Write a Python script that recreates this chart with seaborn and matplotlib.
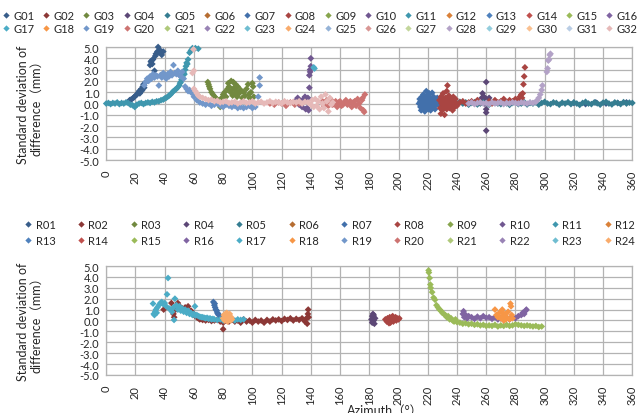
import matplotlib
matplotlib.use("Agg")
import matplotlib.pyplot as plt
from matplotlib.lines import Line2D
import pandas as pd
import seaborn as sns

# Excel 2007 style series colours (dark, medium, accent, light 1-3)
palette = ["#385D8A", "#8C3836", "#71893F", "#5C4776", "#357D91", "#B66D31",
           "#4270AB", "#A94542", "#87A54D", "#705790", "#3F97AE", "#DA8139",
           "#4F81BD", "#C0504D", "#9BBB59", "#8064A2", "#4BACC6", "#F79646",
           "#7297CA", "#CD7371", "#AFC97A", "#9983B5", "#6FBDD1", "#F9AB6B",
           "#95B3D7", "#D99694", "#C3D69B", "#B3A2C7", "#93CDDD", "#FAC090",
           "#B9CDE5", "#E6B9B8"]

g_names = ["G%02d" % i for i in range(1, 33)]
r_names = ["R%02d" % i for i in range(1, 25)]

x_ticks = list(range(0, 361, 20))
y_ticks = [-5.0, -4.0, -3.0, -2.0, -1.0, 0.0, 1.0, 2.0, 3.0, 4.0, 5.0]

# ---- upper chart (G series), (azimuth, std dev) ----
g01 = [(16, 0.3), (17, 0.35), (18, 0.45), (19, 0.55), (20, 0.7), (21, 0.8), (22, 0.95),
       (22.5, 1.1), (23, 0.9), (24, 1.3), (24.5, 1.15), (25, 1.5), (25.5, 1.7), (26, 1.4),
       (27, 1.9), (30, 3.4), (30.5, 3.7), (31, 3.8), (31.5, 3.5), (32, 3.9), (33, 2.9),
       (33.5, 4.2), (34, 4.4), (35, 4.6), (35.5, 5.0), (36, 4.5), (37, 4.7), (38, 4.3),
       (39, 4.6), (320, 0.05), (328, -0.05), (335, 0.1), (342, 0.0), (350, 0.05), (356, 0.1)]
g03 = [(69.5, 1.9), (70, 1.7), (70.5, 1.5), (71, 1.3), (72, 1.0), (73, 0.8), (74, 0.6),
       (75, 0.5), (76, 0.3), (78, -0.3), (79, 0.5), (80, 0.8), (81, 1.0), (82, 0.6),
       (83, 1.3), (83.5, 1.8), (84, 1.5), (85, 1.0), (85.5, 2.0), (86, 1.2), (86.5, 0.7),
       (87, 1.9), (87.5, 1.4), (88, 0.9), (88.5, 1.7), (89, 1.1), (89.5, 0.6), (90, 1.5),
       (91, 0.9), (92, 1.2), (93, 0.5), (94, 1.0), (95, 0.7), (96, 1.3), (97, 1.7),
       (97.5, 0.8), (98, 0.5), (99, 1.0), (100, 1.8), (100.5, 1.5), (101, 0.6)]
g04 = [(257, 0.5), (257.5, 0.9), (258, 0.2), (258.5, 0.6), (259, 0.0), (259.5, 0.4),
       (260, 1.9), (260, -0.5), (260, -0.8), (260, -2.4), (261, 0.3), (261.5, 0.0), (262, 0.5)]
g05 = [(238, 0.1), (240, -0.05), (242, 0.15), (244, 0.0), (246, 0.1), (248, -0.1),
       (250, 0.05), (252, 0.12), (254, -0.08), (256, 0.0), (258, 0.1), (260, 0.05),
       (262, -0.1), (264, 0.08), (266, 0.15), (268, 0.0), (270, -0.05), (272, 0.1),
       (274, 0.02), (276, -0.12), (278, 0.05), (280, 0.1), (282, -0.05), (284, 0.0),
       (286, 0.12), (288, -0.08), (290, 0.05), (292, 0.0), (294, 0.1), (296, -0.1),
       (298, 0.05), (300, 0.15), (302, 0.0), (304, -0.05), (306, 0.1), (308, 0.05),
       (310, -0.1), (312, 0.08), (314, 0.0), (316, 0.12), (318, -0.05), (320, 0.1),
       (322, 0.0), (324, -0.12), (326, 0.05), (328, 0.15), (330, 0.0), (332, -0.05),
       (334, 0.1), (336, 0.02), (338, -0.1), (340, 0.08), (342, 0.15), (344, 0.0),
       (346, -0.08), (348, 0.1), (350, 0.05), (352, -0.05), (354, 0.12), (356, 0.0),
       (358, 0.08), (360, 0.05)]
g07 = [(214, 0.0), (214.5, 0.4), (215, -0.3), (215, 0.2), (215.5, -0.6), (216, 0.6),
       (216, 0.0), (216.5, -0.4), (217, 0.3), (217, 0.8), (217.5, -0.2), (218, 0.5),
       (218, -0.7), (218.5, 0.1), (219, 1.1), (219, -0.3), (219.5, 0.4), (220, 0.0),
       (220, 0.7), (220.5, -0.5), (221, 0.2), (221, 0.9), (221.5, -0.1), (222, 0.5),
       (222, -0.6), (222.5, 0.1), (223, 0.95), (223, -0.3), (223.5, 0.3), (224, 0.6),
       (224, -0.2), (224.5, 0.0), (225, 0.4), (225, -0.5), (225.5, 0.2), (226, -0.1),
       (226.5, 0.5), (227, 0.0), (227.5, 0.3), (228, -0.2)]
g08 = [(228, 0.3), (228.5, -0.4), (229, 0.6), (229, -0.9), (229.5, 0.0), (230, 0.4),
       (230, -0.6), (230.5, 0.9), (231, -0.2), (231, 0.2), (231.5, -1.0), (232, 0.5),
       (232, -0.3), (232.5, 0.0), (233, 1.1), (233.5, 1.6), (233, -0.5), (234, 0.3),
       (234, -0.1), (234.5, 0.7), (235, -0.4), (235, 0.1), (235.5, 0.5), (236, -0.2),
       (236.5, 0.3), (237, -0.6), (237, 0.0), (237.5, 0.6), (238, 0.2), (238.5, -0.3),
       (239, 0.4), (239.5, 0.0), (240, -0.2), (242, 0.1), (244, 0.2), (246, 0.0),
       (248, 0.1), (250, 0.2), (252, 0.0), (254, 0.3), (256, 0.1), (262, 0.2), (264, 0.0),
       (266, 0.3), (268, 0.1), (270, 0.2), (272, 0.4), (274, 0.1), (276, 0.3), (278, 0.2),
       (280, 0.4), (282, 0.3), (283, 0.6), (284, 0.8), (284.5, 0.5), (285, 0.9),
       (285.5, 1.7), (286, 2.4), (286.5, 3.2)]
g10 = [(130, 0.3), (131, 0.5), (132, -0.1), (133, 0.2), (134, -0.3), (135, 0.4),
       (136, 0.6), (136.5, -0.5), (137, 0.3), (137.5, -0.4), (138, 0.5), (138.5, -0.6),
       (139, 1.4), (139, 2.5), (139.5, 3.0), (140, 3.3), (140, 4.0), (139.5, 2.8)]
g11 = [(0, 0.0), (1.5, 0.05), (3, -0.05), (4.5, 0.05), (6, 0.0), (7.5, 0.1), (9, -0.05),
       (10.5, 0.05), (12, 0.0), (13.5, 0.1), (15, 0.05), (16.5, -0.1), (18, -0.15),
       (19.5, -0.3), (20, -0.2), (21, -0.1), (22.5, 0.0), (24, 0.05), (25.5, -0.05),
       (27, 0.05), (28.5, 0.1), (30, 0.05), (31.5, 0.15), (33, 0.1), (34.5, 0.2),
       (36, 0.2), (37.5, 0.3), (39, 0.35), (40, 0.45), (41, 0.5), (42, 0.6), (43, 0.7),
       (44, 0.8), (45, 0.95), (46, 1.1), (47, 1.2), (48, 1.3), (49, 1.45), (50, 1.6),
       (50.5, 1.8), (51, 1.9), (51.5, 2.1), (52, 2.3), (52.5, 2.5), (53, 2.7), (53.5, 2.6),
       (54, 3.0), (54.5, 3.3), (55, 3.6), (55.5, 3.5), (56, 3.9), (57, 4.5), (58, 4.7),
       (59, 4.9), (61, 4.9), (63, 4.85)]
g17 = [(142, 3.2), (142.5, 3.1)]
g19 = [(26, 1.6), (27, 1.9), (28, 2.2), (29, 2.0), (30, 2.4), (31, 2.2), (32, 2.6),
       (33, 2.3), (34, 2.5), (35, 2.4), (36, 1.6), (37, 2.5), (38, 2.3), (39, 2.7),
       (40, 2.5), (41, 2.2), (42, 2.6), (43, 2.4), (44, 2.8), (45, 2.5), (46, 3.4),
       (47, 2.7), (48, 2.6), (49, 2.9), (50, 2.5), (51, 2.4), (52, 2.8), (53, 2.2),
       (54, 1.5), (55, 1.3), (56, 1.1), (57, 1.2), (58, 1.0), (59, 0.9), (60, 0.6),
       (62, 0.3), (64, 0.1), (66, 0.0), (68, -0.1), (70, 0.0), (72, -0.2), (74, -0.1),
       (76, 0.0), (78, -0.2), (80, -0.3), (82, -0.1), (84, -0.2), (86, -0.3), (88, -0.2),
       (90, -0.4), (92, -0.3), (94, -0.4), (96, -0.3), (98, -0.2), (100, -0.4),
       (102, -0.3), (104, 0.6), (105, 2.3), (105, 1.6)]
g20 = [(112, 0.0), (115, -0.1), (118, 0.1), (120, 0.0), (123, -0.2), (126, 0.1),
       (129, -0.1), (132, 0.0), (148, 0.2), (149, -0.2), (150, 0.1), (151, 0.3),
       (152, -0.2), (153, 0.0), (154, 0.3), (155, -0.1), (156, 0.0), (157, 0.2),
       (158, -0.3), (159, 0.1), (160, 0.2), (161, -0.2), (162, -0.1), (163, 0.1),
       (164, 0.3), (165, -0.1), (166, 0.0), (167, 0.2), (168, -0.3), (169, 0.1),
       (170, 0.2), (171, -0.2), (172, 0.4), (173, 0.0), (174, -0.4), (175, 0.3),
       (175.5, 0.5), (176, -0.6), (176.5, -0.75), (177, 0.8)]
g28 = [(248, 0.0), (250, 0.1), (252, -0.05), (254, 0.05), (256, 0.1), (258, 0.0),
       (260, 0.05), (262, -0.05), (264, 0.1), (266, 0.0), (268, 0.05), (270, 0.1),
       (272, -0.05), (274, 0.05), (276, 0.0), (278, 0.1), (280, 0.05), (282, 0.0),
       (284, 0.1), (286, 0.05), (288, 0.0), (290, 0.1), (292, 0.05), (294, 0.15),
       (295, 0.3), (296, 0.5), (297, 0.8), (298, 1.2), (298.5, 1.6), (301.5, 2.8),
       (302, 3.1), (302.5, 3.8), (303, 3.9), (303.5, 4.3), (304, 4.4)]
g32 = [(59.7, 4.8), (60, 2.9), (59, 2.7), (60, 1.3), (61, 1.1), (62, 0.9), (63, 0.7),
       (64, 0.6), (66, 0.5), (68, 0.4), (70, 0.3), (72, 0.35), (74, 0.2), (76, 0.25),
       (78, 0.1), (80, 0.15), (82, 0.2), (84, 0.05), (86, 0.1), (88, 0.15), (90, 0.0),
       (92, 0.1), (94, 0.2), (96, 0.05), (98, 0.1), (100, 0.2), (102, 0.0), (104, 0.1),
       (106, 0.15), (108, 0.0), (110, 0.1), (112, 0.2), (114, 0.05), (116, 0.15),
       (118, 0.1), (120, 0.0), (122, 0.2), (124, 0.1), (126, 0.05), (128, 0.15),
       (130, 0.1), (132, 0.2), (134, 0.0), (136, 0.15), (138, 0.1), (140, -0.1),
       (141, 0.3), (142, -0.3), (143, 0.4), (144, -0.2), (145, 0.2), (146, -0.5),
       (147, 0.6), (148, 0.0), (149, -0.4), (150, 0.8), (151, 0.2), (152, -0.7),
       (153, 0.5), (154, -0.1), (155, 0.1)]

# ---- lower chart (R series) ----
r02 = [(39.3, 1.0), (44.6, 1.6), (46, 0.6), (46.5, 0.3), (47.5, 1.0), (49, 1.6),
       (50, 1.3), (51, 1.2), (52, 1.1), (53, 1.0), (54, 1.2), (55, 0.9), (56, 1.3),
       (57, 0.8), (58, 0.9), (59, 0.7), (60, 0.6), (61, 0.4), (62, 0.3), (63, 0.2),
       (64, 0.1), (65, 0.15), (66, 0.05), (68, 0.0), (70, 0.05), (72, -0.05), (74, 0.0),
       (76, 0.05), (78, -0.1), (80, -0.8), (80, -0.2), (82, 0.0), (84, -0.1), (86, 0.05),
       (88, -0.1), (90, 0.0), (92, -0.2), (94, 0.1), (96, -0.1), (98, 0.0), (100, -0.2),
       (102, 0.05), (104, -0.1), (106, 0.0), (108, -0.2), (110, 0.05), (112, -0.1),
       (114, 0.1), (116, 0.0), (118, 0.1), (120, -0.05), (122, 0.15), (124, 0.05),
       (126, 0.2), (128, 0.0), (130, 0.15), (132, 0.05), (134, 0.2), (136, -0.1),
       (137, 0.2), (137.5, -0.3), (138, 0.6), (138.2, 1.0), (138.5, 0.3)]
r04 = [(181.5, 0.1), (182, 0.4), (182, -0.2), (182.5, 0.6), (183, 0.0), (183, 0.3),
       (183.5, -0.3), (184, 0.2), (182.5, -0.1), (183, 0.5)]
r07 = [(73.3, 1.7), (74, 1.4), (74.2, 1.55), (74.5, 1.2), (75, 1.0), (75.6, 0.9),
       (76, 0.7), (76.5, 0.6), (77, 0.5), (78, 0.4)]
r08 = [(191, 0.1), (192, -0.1), (192.5, 0.2), (193, 0.0), (193.5, -0.25), (194, 0.3),
       (194.5, -0.2), (195, 0.1), (195.5, 0.3), (196, 0.4), (196.5, -0.1), (197, 0.2),
       (198, 0.3), (198.5, 0.0), (199, 0.2), (200, 0.1), (200.5, 0.2)]
r15 = [(220.6, 4.6), (220.8, 4.4), (221.3, 3.9), (221.8, 3.3), (222, 3.0), (223, 2.6),
       (224, 2.1), (225, 1.9), (226, 1.4), (227, 1.2), (228, 1.0), (229, 0.9), (230, 0.7),
       (231, 0.6), (232, 0.5), (233, 0.3), (234, 0.4), (235, 0.1), (236, 0.2), (237, 0.0),
       (238, -0.1), (239, 0.1), (240, -0.15), (242, -0.2), (244, -0.3), (246, -0.25),
       (248, -0.35), (250, -0.3), (252, -0.4), (254, -0.35), (256, -0.45), (258, -0.4),
       (260, -0.5), (262, -0.45), (264, -0.5), (266, -0.4), (268, -0.55), (270, -0.45),
       (272, -0.5), (274, -0.4), (276, -0.5), (278, -0.45), (280, -0.35), (282, -0.4),
       (284, -0.45), (286, -0.5), (288, -0.45), (290, -0.5), (292, -0.55), (294, -0.5),
       (296, -0.6), (298, -0.55)]
r16 = [(244, 0.6), (244.5, 0.85), (245, 0.3), (246, 0.5), (247, 0.2), (248, 0.4),
       (250, 0.3), (252, 0.15), (254, 0.35), (256, 0.2), (258, 0.4), (260, 0.25),
       (262, 0.3), (264, 0.15), (266, 0.3), (268, 0.1), (270, 0.2), (272, 0.05),
       (274, 0.25), (276, 0.1), (278, 0.3), (280, 0.2), (282, 0.4), (284, 0.5),
       (285, 0.7), (286, 0.6), (287, 0.9), (287.5, 1.0)]
r17 = [(32, 1.55), (32.5, 0.6), (33, 0.5), (33.5, 0.8), (34, 1.0), (34.5, 0.7), (35, 1.2),
       (36, 1.4), (37, 1.6), (38, 1.7), (39, 1.5), (40, 1.6), (41, 1.3), (41.6, 2.4),
       (42.3, 3.9), (43, 1.1), (44, 1.0), (45, 0.8), (46, 1.2), (46.4, 0.05), (47, 2.0),
       (48, 1.4), (49, 1.0), (50, 1.3), (51, 0.9), (52, 1.1), (53, 0.8), (54, 1.0),
       (55, 0.7), (56, 0.9), (57, 0.6), (58, 0.7), (59, 0.5), (60, 0.6), (60.7, 1.3),
       (61, 0.45), (62, 0.5), (63, 0.4), (64, 0.35), (65, 0.3), (66, 0.3), (67, 0.25),
       (68, 0.2), (69, 0.25), (70, 0.15), (71, 0.2), (72, 0.1), (73, 0.15), (74, 0.1),
       (76, 0.05), (78, 0.1), (80, 0.0), (82, 0.1), (84, 0.05), (86, 0.1), (88, 0.0),
       (90, 0.1), (92, 0.05), (94, 0.1)]
r18 = [(266, 1.0), (267, 0.5), (268, 0.3), (269, 0.7), (270, 0.2), (270.5, 0.8),
       (271, 1.0), (271.5, 0.4), (272, 0.0), (273, 0.6), (273.5, 0.1), (274, 0.3),
       (275, 0.8), (276, 0.1), (276.6, 1.55), (277, 1.3), (277.5, 0.5), (278, 0.2)]
r24 = [(80, 0.2), (80.5, 0.5), (81, 0.0), (81.5, 0.6), (82, 0.3), (82.5, 0.7), (83, 0.1),
       (83, -0.1), (83.5, 0.5), (84, 0.2), (84.5, 0.6), (85, 0.0), (85.5, 0.3), (86, 0.1)]

top_series = {"G01": g01, "G03": g03, "G04": g04, "G05": g05, "G07": g07, "G08": g08,
              "G10": g10, "G11": g11, "G17": g17, "G19": g19, "G20": g20, "G28": g28,
              "G32": g32}
bottom_series = {"R02": r02, "R04": r04, "R07": r07, "R08": r08, "R15": r15,
                 "R16": r16, "R17": r17, "R18": r18, "R24": r24}


def to_frame(names, series):
    rows = []
    for name in names:
        for az, sd in series.get(name, []):
            rows.append((name, az, sd))
    return pd.DataFrame(rows, columns=["series", "azimuth", "sd"])


sns.set_style("whitegrid")
plt.rcParams['font.family'] = ['Lato', 'Noto Sans CJK JP', 'DejaVu Sans']

fig = plt.figure(figsize=(6.4, 4.14), dpi=100)
ax1 = fig.add_axes([0.166, 0.611, 0.822, 0.273])
ax2 = fig.add_axes([0.166, 0.092, 0.822, 0.263])

colors = dict(zip(g_names, palette))
colors.update(dict(zip(r_names, palette)))

for ax, names, series in [(ax1, g_names, top_series), (ax2, r_names, bottom_series)]:
    df = to_frame(names, series)
    sns.scatterplot(data=df, x="azimuth", y="sd", hue="series",
                    hue_order=[n for n in names if n in series],
                    palette=colors, marker="D", s=12, linewidth=0,
                    legend=False, ax=ax, clip_on=False, zorder=3)
    ax.set_xlim(0, 360)
    ax.set_ylim(-5, 5)
    ax.set_xticks(x_ticks)
    ax.set_xticklabels([str(t) for t in x_ticks], rotation=90, fontsize=8)
    ax.set_yticks(y_ticks)
    ax.set_yticklabels(["%.1f" % t for t in y_ticks], fontsize=8)
    ax.tick_params(length=0, pad=5)
    ax.tick_params(axis="x", pad=7)
    ax.grid(True, color="#b3b3b3", linewidth=0.9)
    for sp in ax.spines.values():
        sp.set_color("#b3b3b3")
        sp.set_linewidth(0.9)
    ax.set_xlabel("")
    ax.set_ylabel("Standard deviation of\ndifference（mm）", fontsize=9, linespacing=1.1)
    ax.yaxis.set_label_coords(-0.122, 0.5)

ax2.set_xlabel("Azimuth（°）", fontsize=9)
ax2.xaxis.set_label_coords(0.53, -0.265)


def row_major(names, ncol):
    # legend fills column by column; reorder so entries read across rows
    nrow = (len(names) + ncol - 1) // ncol
    return [names[r * ncol + c] for c in range(ncol) for r in range(nrow)
            if r * ncol + c < len(names)]


def handles(names):
    return [Line2D([], [], marker="D", linestyle="none", markersize=3.2,
                   markerfacecolor=colors[n], markeredgewidth=0) for n in names]


g_leg = row_major(g_names, 16)
r_leg = row_major(r_names, 12)
fig.legend(handles(g_leg), g_leg, ncol=16, loc="upper center",
           bbox_to_anchor=(0.5, 1 - 11 / 414), frameon=False, fontsize=8,
           handlelength=0.7, handletextpad=0.3, columnspacing=0.72,
           labelspacing=0.2, borderpad=0, borderaxespad=0)
fig.legend(handles(r_leg), r_leg, ncol=12, loc="upper center",
           bbox_to_anchor=(0.515, 1 - 220 / 414), frameon=False, fontsize=8,
           handlelength=0.7, handletextpad=0.3, columnspacing=1.95,
           labelspacing=0.45, borderpad=0, borderaxespad=0)

fig.savefig("out.png", dpi=100)
